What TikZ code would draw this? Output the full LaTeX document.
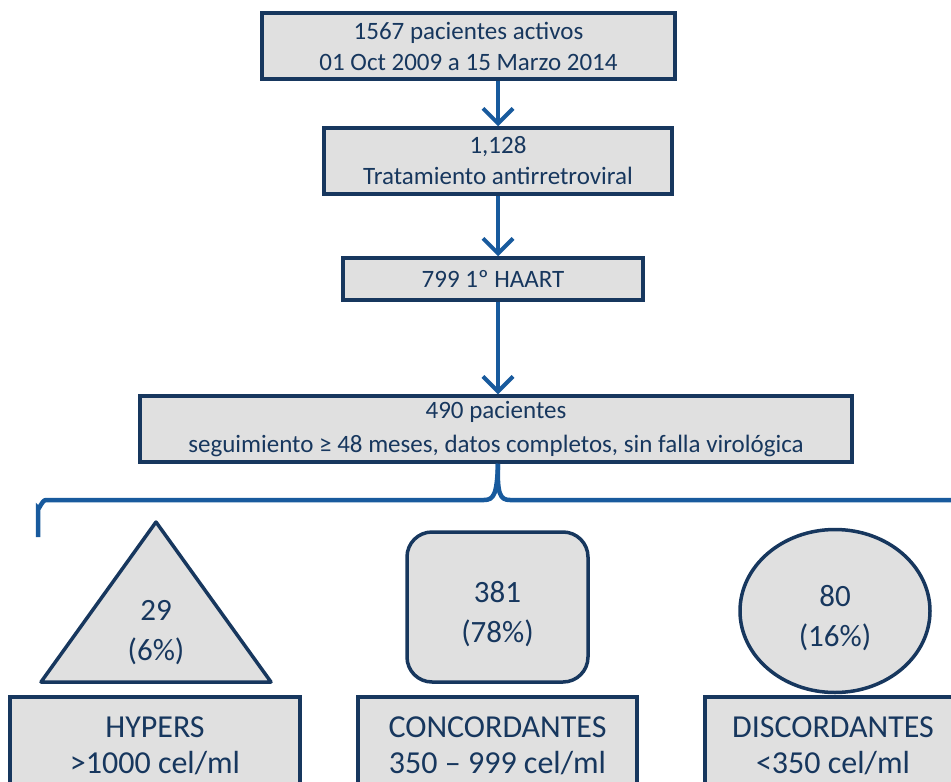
\documentclass[tikz,border=0pt]{standalone}
\usepackage{fontspec}
\setmainfont{Carlito}
\usetikzlibrary{arrows.meta,shapes.geometric}
\definecolor{navy}{RGB}{23,55,94}
\definecolor{boxgray}{RGB}{224,224,224}
\definecolor{arrblue}{RGB}{24,90,157}
\tikzset{
  box/.style={
    draw=navy, fill=boxgray, rectangle, line width=3.5pt, inner sep=0pt,
    text=navy, align=center, font=\fontsize{25}{31}\selectfont
  },
  bigbox/.style={
    box, font=\fontsize{32}{36}\selectfont
  },
  shp/.style={
    draw=navy, fill=boxgray, line width=3.5pt, inner sep=0pt
  },
  shptext/.style={
    text=navy, align=center, inner sep=0pt, font=\fontsize{31}{40}\selectfont
  },
  flow/.style={
    -{Straight Barb[length=15pt,width=30pt,line width=4pt]}, line width=4.5pt, arrblue
  },
  brace/.style={
    line width=4.5pt, arrblue
  }
}

\begin{document}
\begin{tikzpicture}[x=1pt,y=-1pt]
  \useasboundingbox (0,0) rectangle (951,782);
  \node[box, minimum width=413, minimum height=66] (act) at (468.5,46)
    {1567 pacientes activos\\01 Oct 2009 a 15 Marzo 2014};
  \node[box, minimum width=348, minimum height=66] (tar) at (498,161)
    {1,128\\Tratamiento antirretroviral};
  \node[box, minimum width=300, minimum height=42] (haart) at (493,279)
    {799 1º HAART};
  \node[box, minimum width=712, minimum height=66, font=\fontsize{25}{34}\selectfont] (seg) at (496,429)
    {490 pacientes\\seguimiento ≥ 48 meses, datos completos, sin falla virológica};

  \draw[flow] (act.south -| tar.north) -- (tar.north);
  \draw[flow] (tar.south) -- (tar.south |- haart.north);
  \draw[flow] (haart.south -| tar.south) -- (tar.south |- seg.north);

  \coordinate (tip) at (seg.south -| tar.south);
  \draw[brace] (38,537) -- (38,508) to[out=-90,in=180] (46,500) -- (484,500)
    .. controls (494,500) and (497,494) .. (tip);
  \draw[brace] (tip) .. controls (497,494) and (500,500) .. (510,500) -- (960,500);

  % triangle
  \coordinate (tapex) at (156,522);
  \coordinate (tleft) at (41,682);
  \coordinate (tright) at (271,682);
  \draw[shp, line join=round] (tapex) -- (tright) -- (tleft) -- cycle;
  \node[shptext] (hyp) at (156,633) {29\\(6\%)};

  \node[shp, rounded corners=25pt, minimum width=181, minimum height=150] (con) at (497.5,607) {};
  \node[shptext] (cont) at (497.5,614) {381\\(78\%)};
  \node[shp, ellipse, minimum width=190, minimum height=163] (dis) at (835,611) {};
  \node[shptext] (dist) at (835,618) {80\\(16\%)};

  \node[bigbox, minimum width=290, minimum height=110] (hypb) at (155,752) {};
  \node[bigbox, minimum width=279, minimum height=110] (conb) at (497.5,752) {};
  \node[bigbox, minimum width=256, minimum height=110] (disb) at (833,752) {};
  \node[shptext, font=\fontsize{32}{36}\selectfont] (hypt) at (155,746) {HYPERS\\>1000 cel/ml};
  \node[shptext, font=\fontsize{32}{36}\selectfont] (cont2) at (497.5,746) {CONCORDANTES\\350 – 999 cel/ml};
  \node[shptext, font=\fontsize{32}{36}\selectfont] (dist2) at (833,746) {DISCORDANTES\\<350 cel/ml};
\end{tikzpicture}
\end{document}
